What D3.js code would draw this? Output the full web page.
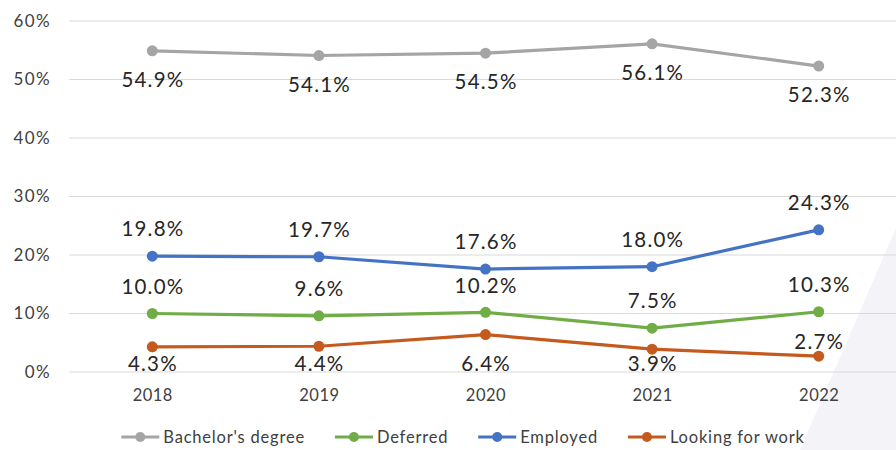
<!DOCTYPE html>
<html>
<head>
<meta charset="utf-8">
<script src="https://cdn.jsdelivr.net/npm/d3@7"></script>
<style>
  body { margin: 0; background: #fff; }
  svg { display: block; font-family: Lato, "Open Sans", sans-serif; }
</style>
</head>
<body>
<svg id="chart" width="896" height="450"></svg>
<script>
// Data
const years = ['2018', '2019', '2020', '2021', '2022'];
const bachelors = [54.9, 54.1, 54.5, 56.1, 52.3];
const deferred = [10.0, 9.6, 10.2, 7.5, 10.3];
const employed = [19.8, 19.7, 17.6, 18.0, 24.3];
const lookingForWork = [4.3, 4.4, 6.4, 3.9, 2.7];
const yTicks = [0, 10, 20, 30, 40, 50, 60];

const series = [
    { name: "Bachelor's degree", values: bachelors, color: '#a5a5a5', label: 'below' },
    { name: 'Deferred', values: deferred, color: '#70ad47', label: 'above' },
    { name: 'Employed', values: employed, color: '#4472c4', label: 'above' },
    { name: 'Looking for work', values: lookingForWork, color: '#c55a1e', label: 'below' },
];

const svg = d3.select('#chart');

// faint background shape on the right
svg.append('path')
    .attr('d', 'M896,228 L800,450 L896,450 Z')
    .attr('fill', '#f4f3f7');

const x = d3.scalePoint().domain(years).range([69, 902]).padding(0.5);
const y = d3.scaleLinear().domain([0, 60]).range([372, 21]);

// gridlines
svg.append('g')
    .selectAll('line')
    .data(yTicks)
    .join('line')
    .attr('x1', 69)
    .attr('x2', 902)
    .attr('y1', (d) => y(d))
    .attr('y2', (d) => y(d))
    .attr('stroke', '#d9d9d9')
    .attr('stroke-width', 1);

// y axis labels
const yAxis = d3.axisLeft(y).tickValues(yTicks).tickFormat((d) => d + '%').tickSize(0).tickPadding(0);
const gy = svg.append('g').attr('transform', 'translate(51,0)').call(yAxis);
gy.select('.domain').remove();
gy.selectAll('text')
    .attr('font-size', 17)
    .attr('letter-spacing', 1.4)
    .attr('fill', '#404040')
    .attr('font-family', 'Lato, sans-serif');

// x axis labels
const xAxis = d3.axisBottom(x).tickSize(0).tickPadding(0);
const gx = svg.append('g').attr('transform', 'translate(0,389)').call(xAxis);
gx.select('.domain').remove();
gx.selectAll('text')
    .attr('font-size', 16.5)
    .attr('letter-spacing', 0.5)
    .attr('fill', '#404040')
    .attr('font-family', 'Lato, sans-serif');

const line = d3.line()
    .x((d, i) => x(years[i]))
    .y((d) => y(d));

series.forEach((s) => {
    const g = svg.append('g');
    g.append('path')
        .datum(s.values)
        .attr('d', line)
        .attr('fill', 'none')
        .attr('stroke', s.color)
        .attr('stroke-width', 3.2)
        .attr('stroke-linejoin', 'round');
    g.selectAll('circle')
        .data(s.values)
        .join('circle')
        .attr('cx', (d, i) => x(years[i]))
        .attr('cy', (d) => y(d))
        .attr('r', 5.5)
        .attr('fill', s.color);
});

// data labels (placed like the spreadsheet does: kept inside the plot area)
series.forEach((s) => {
    svg.append('g')
        .selectAll('text')
        .data(s.values)
        .join('text')
        .attr('x', (d, i) => x(years[i]) + 0.6)
        .attr('y', (d) => {
            const py = y(d);
            if (s.label === 'above') return py - 27;
            let ly = Math.min(py + 29, 364);
            if (ly - py < 10) ly = py - 14;
            return ly;
        })
        .attr('dy', '0.35em')
        .attr('text-anchor', 'middle')
        .attr('font-size', 20.5)
        .attr('letter-spacing', 1.2)
        .attr('fill', '#262626')
        .text((d) => d.toFixed(1) + '%');
});

// legend
const legend = svg.append('g').attr('transform', 'translate(0,437)');
const items = legend.selectAll('g')
    .data(series)
    .join('g');
items.append('text')
    .attr('x', 42)
    .attr('dy', '0.35em')
    .attr('font-size', 16.5)
    .attr('letter-spacing', 0.8)
    .attr('fill', '#404040')
    .text((d) => d.name);
let cursor = 0;
const widths = [];
items.each(function () {
    widths.push(42 + this.querySelector('text').getComputedTextLength());
});
const gap = 30;
const total = d3.sum(widths) + gap * (widths.length - 1);
cursor = 463 - total / 2;
items.attr('transform', (d, i) => {
    const tx = cursor;
    cursor += widths[i] + gap;
    return `translate(${tx},0)`;
});
items.append('line')
    .attr('x1', 0).attr('x2', 38)
    .attr('stroke', (d) => d.color)
    .attr('stroke-width', 3.2);
items.append('circle')
    .attr('cx', 19)
    .attr('r', 5)
    .attr('fill', (d) => d.color);
</script>
</body>
</html>
